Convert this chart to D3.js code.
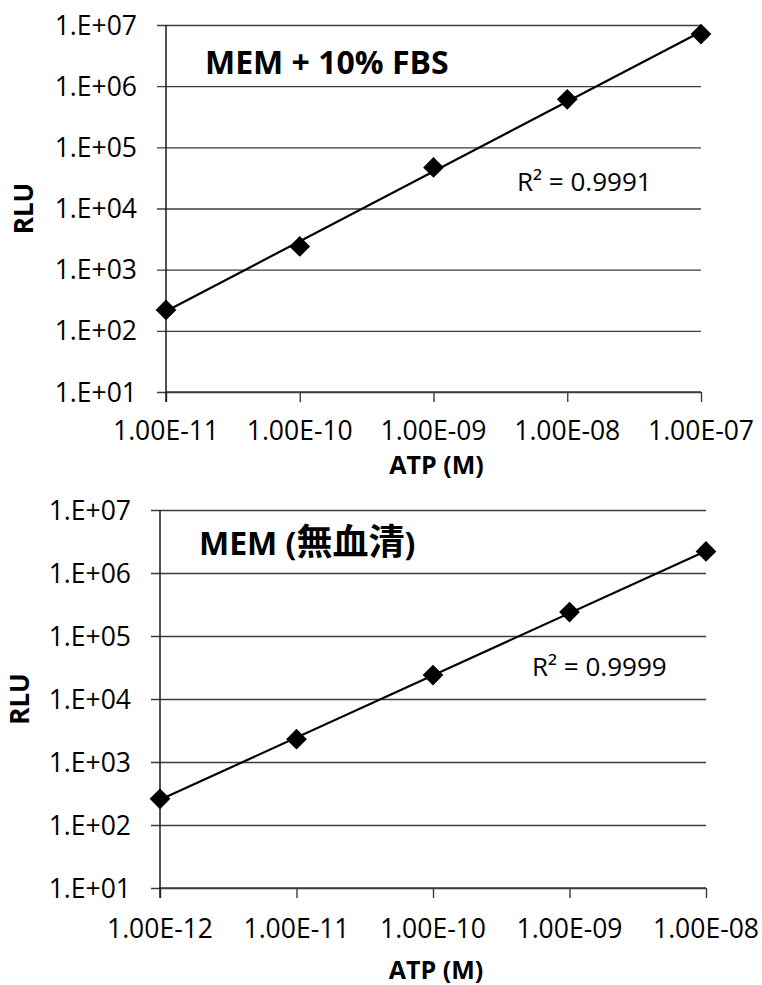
<!DOCTYPE html>
<html>
<head>
<meta charset="utf-8">
<script src="https://cdn.jsdelivr.net/npm/d3@7"></script>
<style>
  body { margin: 0; background: #fff; }
  svg text { font-family: "Open Sans", "Noto Sans CJK JP", sans-serif; fill: #000; }
</style>
</head>
<body>
<div id="chart"></div>
<script>
// data
const yTicks = [1e1, 1e2, 1e3, 1e4, 1e5, 1e6, 1e7];
const yTickLabels = ["1.E+01", "1.E+02", "1.E+03", "1.E+04", "1.E+05", "1.E+06", "1.E+07"];

const fbsATP = [1e-11, 1e-10, 1e-9, 1e-8, 1e-7];
const fbsRLU = [220, 2400, 47000, 610000, 7.1e6];
const fbsXLabels = ["1.00E-11", "1.00E-10", "1.00E-09", "1.00E-08", "1.00E-07"];

const serumFreeATP = [1e-12, 1e-11, 1e-10, 1e-9, 1e-8];
const serumFreeRLU = [260, 2300, 24000, 240000, 2.2e6];
const serumFreeXLabels = ["1.00E-12", "1.00E-11", "1.00E-10", "1.00E-09", "1.00E-08"];

const svg = d3.select("#chart")
    .append("svg")
    .attr("width", 762)
    .attr("height", 985);

// power trendline (least squares in log-log space), like Excel's
function powerFit(xs, ys) {
    const lx = xs.map(Math.log10), ly = ys.map(Math.log10);
    const mx = d3.mean(lx), my = d3.mean(ly);
    const b = d3.sum(lx, (v, i) => (v - mx) * (ly[i] - my)) / d3.sum(lx, v => (v - mx) * (v - mx));
    const a = my - b * mx;
    return x => Math.pow(10, a + b * Math.log10(x));
}

function drawPanel(p) {
    const g = svg.append("g");
    const x = d3.scaleLog().domain(d3.extent(p.atp)).range([p.left, p.right]);
    const y = d3.scaleLog().domain([1e1, 1e7]).range([p.bottom, p.top]);

    // gridlines + y axis ticks
    g.append("g")
        .attr("transform", `translate(${p.left},0)`)
        .call(d3.axisLeft(y).tickValues(yTicks).tickSize(-(p.right - p.left)).tickFormat(""))
        .call(a => a.select(".domain").remove())
        .call(a => a.selectAll("line").attr("stroke", "#3c3c3c").attr("stroke-width", 1.4).attr("x1", -9));

    g.selectAll(".ylab")
        .data(yTicks)
        .enter()
        .append("text")
        .attr("x", p.left - 29)
        .attr("y", d => y(d))
        .attr("dy", "0.36em")
        .attr("text-anchor", "end")
        .style("font-size", "26.5px")
        .text((d, i) => yTickLabels[i]);

    // x axis with outside ticks
    g.append("g")
        .attr("transform", `translate(0,${p.bottom})`)
        .call(d3.axisBottom(x).tickValues(p.atp).tickSize(10).tickFormat(""))
        .call(a => a.select(".domain").attr("stroke", "#3c3c3c").attr("stroke-width", 1.4).attr("d", `M${p.left},0H${p.right}`))
        .call(a => a.selectAll("line").attr("stroke", "#3c3c3c").attr("stroke-width", 1.4));

    g.selectAll(".xlab")
        .data(p.atp)
        .enter()
        .append("text")
        .attr("x", d => x(d))
        .attr("y", p.bottom + p.xlabDy)
        .attr("dy", "0.36em")
        .attr("text-anchor", "middle")
        .style("font-size", "26.5px")
        .text((d, i) => p.xLabels[i]);

    // vertical y axis line
    g.append("line")
        .attr("x1", p.left).attr("x2", p.left)
        .attr("y1", p.top).attr("y2", p.bottom + 10)
        .attr("stroke", "#1a1a1a")
        .attr("stroke-width", 1.5);

    // trendline
    const fit = powerFit(p.atp, p.rlu);
    const ends = d3.extent(p.atp);
    g.append("path")
        .datum(ends)
        .attr("fill", "none")
        .attr("stroke", "#000")
        .attr("stroke-width", 2.2)
        .attr("d", d3.line().x(d => x(d)).y(d => y(fit(d))));

    // diamond markers
    g.selectAll(".pt")
        .data(p.atp)
        .enter()
        .append("path")
        .attr("transform", (d, i) => `translate(${x(d)},${y(p.rlu[i])}) rotate(45)`)
        .attr("d", d3.symbol().type(d3.symbolSquare).size(215))
        .attr("fill", "#000");

    // titles and labels
    const title = g.append("text")
        .attr("x", p.left + 39)
        .attr("y", p.titleY)
        .style("font-size", "32px")
        .style("font-weight", "bold");
    title.append("tspan").text(p.title);
    if (p.titleCJK) {
        title.append("tspan")
            .style("font-size", "36px")
            .text(p.titleCJK);
        title.append("tspan").text(")");
    }

    g.append("text")
        .attr("x", p.r2X)
        .attr("y", p.r2Y)
        .attr("dy", "0.36em")
        .style("font-size", "26px")
        .text(p.r2);

    g.append("text")
        .attr("transform", `translate(${p.rluX},${(p.top + p.bottom) / 2}) rotate(-90)`)
        .attr("text-anchor", "middle")
        .attr("dy", "0.36em")
        .style("font-size", "26px")
        .style("font-weight", "bold")
        .text("RLU");

    g.append("text")
        .attr("x", (p.left + p.right) / 2 + 3)
        .attr("y", p.bottom + p.atpDy)
        .attr("dy", "0.36em")
        .attr("text-anchor", "middle")
        .style("font-size", "25px")
        .style("font-weight", "bold")
        .text("ATP (M)");
}

drawPanel({
    atp: fbsATP, rlu: fbsRLU, xLabels: fbsXLabels,
    left: 166, right: 701, top: 25, bottom: 392,
    title: "MEM + 10% FBS", titleY: 74,
    r2: "R² = 0.9991", r2X: 517, r2Y: 182,
    rluX: 24, xlabDy: 38, atpDy: 73
});

drawPanel({
    atp: serumFreeATP, rlu: serumFreeRLU, xLabels: serumFreeXLabels,
    left: 160, right: 706, top: 510, bottom: 888,
    title: "MEM (", titleCJK: "無血清", titleY: 555,
    r2: "R² = 0.9999", r2X: 532, r2Y: 667,
    rluX: 20, xlabDy: 40, atpDy: 82
});
</script>
</body>
</html>
